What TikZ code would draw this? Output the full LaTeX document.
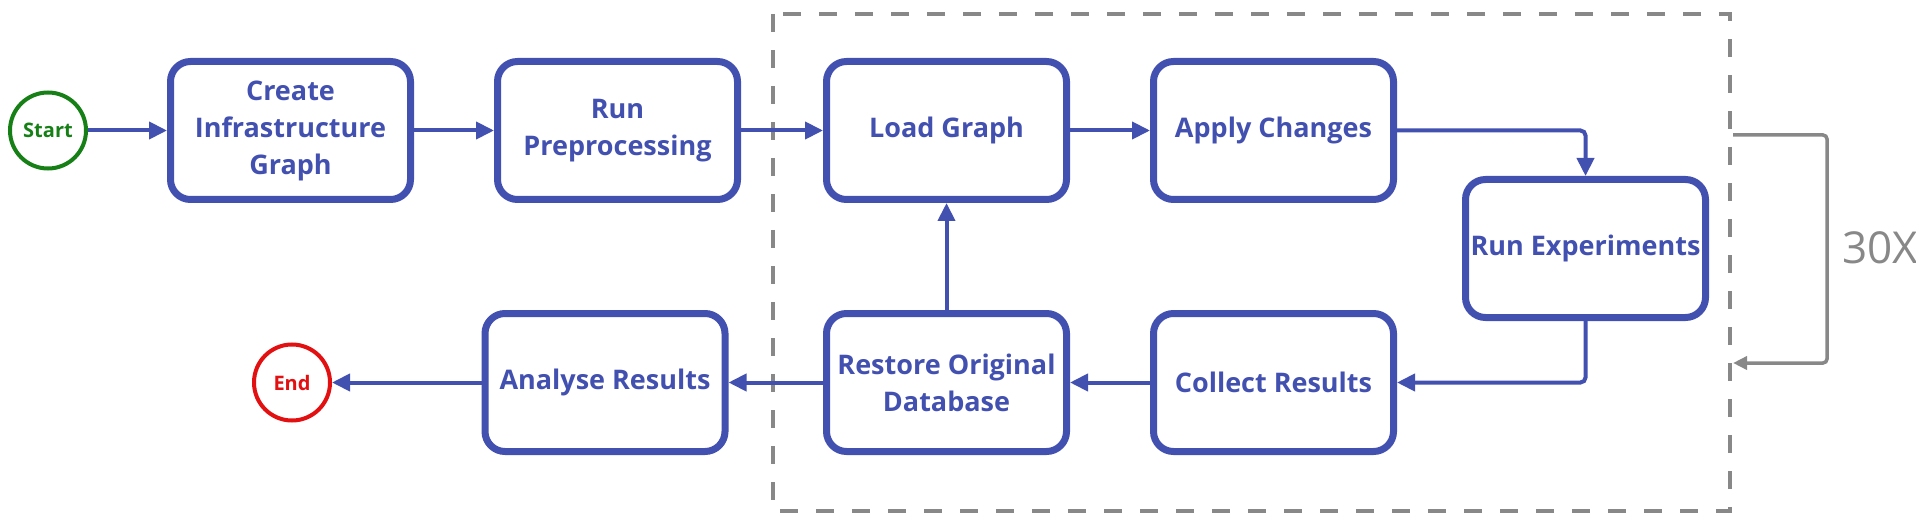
\documentclass[tikz,border=0pt]{standalone}
\usepackage{fontspec}
\setmainfont{Open Sans}
\usetikzlibrary{arrows.meta, positioning, calc}

\definecolor{flowblue}{RGB}{66,80,176}
\definecolor{startgreen}{RGB}{22,128,22}
\definecolor{endred}{RGB}{226,16,16}
\definecolor{loopgray}{RGB}{136,136,136}

\begin{document}
\begin{tikzpicture}[x=1pt,y=-1pt]

\tikzstyle{process}  = [
  rectangle,
  draw=flowblue,
  line width=7pt,
  rounded corners=20pt,
  minimum width=240pt,
  minimum height=138pt,
  inner sep=0pt,
  align=center,
  text=flowblue,
  font=\fontsize{27}{37}\selectfont\bfseries]
\tikzstyle{terminal}  = [circle, line width=4pt, minimum size=76pt, inner sep=0pt,
  font=\fontsize{20}{24}\selectfont\bfseries]
\tikzstyle{flow}  = [-{Triangle[length=18pt,width=17pt]}, draw=flowblue, line width=4pt, rounded corners=5pt]
\tikzstyle{iterline}  = [-{Triangle[length=14pt,width=13pt]}, draw=loopgray, line width=3.5pt, rounded corners=4pt]

\useasboundingbox (0,0) rectangle (1916,521);

\def\rowa{130.5}
\def\rowb{382.5}

\def\proc#1#2#3#4{\node (#1) [process] at (#2,#3) {#4};}

% repeated part
\draw[loopgray, line width=4pt, dash pattern=on 18pt off 18pt] (773,14) rectangle (1730,511);

\node (start) [terminal, draw=startgreen, text=startgreen] at (48,\rowa) {Start};
\node (end) [terminal, draw=endred, text=endred] at (292,\rowb) {End};

\proc{create}{290.5}{\rowa}{Create\\Infrastructure\\Graph}
\proc{prep}{617.5}{\rowa}{Run\\Preprocessing}
\proc{load}{946.5}{\rowa}{Load Graph}
\proc{apply}{1273.5}{\rowa}{Apply Changes}
\proc{exper}{1585.5}{248.5}{Run Experiments}
\proc{collect}{1273.5}{\rowb}{Collect Results}
\proc{restore}{946.5}{\rowb}{Restore Original\\Database}
\proc{analyse}{605}{\rowb}{Analyse Results}

\draw[flow] (start.east) -- (create.west);
\draw[flow] (create.east) -- (prep.west);
\draw[flow] (prep.east) -- (load.west);
\draw[flow] (load.east) -- (apply.west);
\draw[flow] (apply.east) -| (exper.north);
\draw[flow] (exper.south) |- (collect.east);
\draw[flow] (collect.west) -- (restore.east);
\draw[flow] (restore.north) -- (load.south);
\draw[flow] (restore.west) -- (analyse.east);
\draw[flow] (analyse.west) -- (end.east);

% 30 iterations
\coordinate (loopin) at (1733,135);
\coordinate (loopout) at (1733,363);
\draw[iterline] (loopin) -- ++(94,0) |- (loopout);
\node (times) [anchor=west, inner sep=0pt, text=loopgray, font=\fontsize{44}{50}\selectfont] at (1842,248) {30X};

\end{tikzpicture}
\end{document}
